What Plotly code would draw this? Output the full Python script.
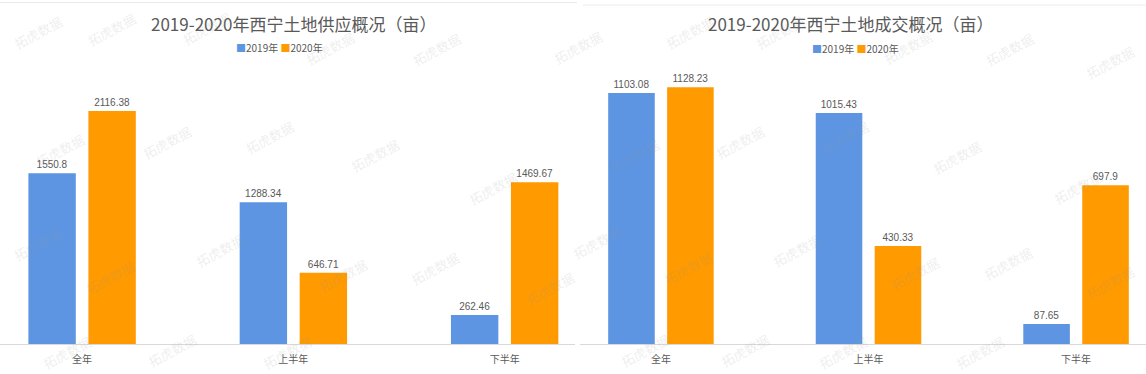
import plotly.graph_objects as go

# ---------------- data ----------------
categories = ["全年", "上半年", "下半年"]
series_names = ["2019年", "2020年"]
supply_2019 = [1550.8, 1288.34, 262.46]
supply_2020 = [2116.38, 646.71, 1469.67]
deal_2019 = [1103.08, 1015.43, 87.65]
deal_2020 = [1128.23, 430.33, 697.9]
title_left = "2019-2020年西宁土地供应概况（亩）"
title_right = "2019-2020年西宁土地成交概况（亩）"
watermark_text = "拓虎数据"

# ---------------- style ----------------
W, H = 1146, 374
BLUE = "#5D95E2"
ORANGE = "#FF9A00"
GRAY = "#595959"
LATIN = "Liberation Sans, Arial, Noto Sans CJK SC"
CJK = "Noto Sans CJK SC, Liberation Sans"


def px(x):
    return x / W


def py(y):
    return 1 - y / H


fig = go.Figure()


def add_pair(v19, v20, xa, ya):
    for vals, name, col in ((v19, series_names[0], BLUE), (v20, series_names[1], ORANGE)):
        fig.add_trace(go.Bar(
            x=categories, y=vals, name=name, xaxis=xa, yaxis=ya,
            marker=dict(color=col, line=dict(width=0)),
            text=[str(v) for v in vals], textposition="outside",
            textfont=dict(size=10, color=GRAY, family=LATIN),
            cliponaxis=False, showlegend=False, hoverinfo="x+y+name",
        ))


add_pair(supply_2019, supply_2020, "x", "y")
add_pair(deal_2019, deal_2020, "x2", "y2")

ydom = [py(344), py(60)]
xcommon = dict(type="category", categoryorder="array", categoryarray=categories,
               showline=True, linecolor="#d9d9d9", linewidth=1, ticks="",
               showgrid=False, zeroline=False, fixedrange=True,
               tickfont=dict(size=10, color=GRAY, family=CJK), ticklabelstandoff=6)
ycommon = dict(showgrid=False, zeroline=False, showticklabels=False,
               showline=False, ticks="", fixedrange=True)

fig.update_layout(
    width=W, height=H,
    margin=dict(l=0, r=0, t=0, b=0),
    paper_bgcolor="white", plot_bgcolor="white",
    barmode="group", bargap=0.432, bargroupgap=0.21,
    showlegend=False,
    xaxis=dict(domain=[0, px(575)], range=[-0.3886, 2.333], anchor="y", **xcommon),
    yaxis=dict(domain=ydom, range=[0, 2579.7], anchor="x", **ycommon),
    xaxis2=dict(domain=[px(580), 1], range=[-0.390, 2.337], anchor="y2", **xcommon),
    yaxis2=dict(domain=ydom, range=[0, 1248.4], anchor="x2", **ycommon),
)

annotations = []
# titles
for t, cx in ((title_left, 293), (title_right, 850)):
    annotations.append(dict(text=t, x=px(cx), y=py(23), xref="paper", yref="paper",
                            xanchor="center", yanchor="middle", showarrow=False,
                            font=dict(size=17, color=GRAY, family=CJK)))
# legends
legend_txt = (f'<span style="color:{BLUE}">■</span>{series_names[0]} '
              f'<span style="color:{ORANGE}">■</span>{series_names[1]}')
for cx, cy in ((279.5, 47), (855.5, 49)):
    annotations.append(dict(text=legend_txt, x=px(cx), y=py(cy), xref="paper", yref="paper",
                            xanchor="center", yanchor="middle", showarrow=False,
                            font=dict(size=10, color=GRAY, family=CJK)))

# faint watermarks (kept fully inside the picture)
wm_pos = [(38, 32), (112, 30), (207, 29), (330, 48), (60, 150), (167, 142), (270, 138),
          (375, 155), (38, 245), (220, 250), (110, 277), (343, 275), (67, 352), (172, 350),
          (287, 352), (437, 50), (578, 47), (690, 32), (635, 155), (740, 142),
          (493, 188), (597, 242), (435, 268), (550, 288), (688, 268), (645, 350), (745, 350),
          (780, 32), (908, 47), (1010, 50), (1110, 62), (845, 138), (957, 157), (1078, 187),
          (797, 250), (915, 273), (1008, 263), (1110, 282), (843, 352), (980, 352)]
for (wx, wy) in wm_pos:
    annotations.append(dict(text=watermark_text, x=px(wx), y=py(wy), xref="paper", yref="paper",
                            xanchor="center", yanchor="middle", showarrow=False, textangle=-28,
                            font=dict(size=13, color="rgba(150,150,150,0.17)", family=CJK)))
fig.update_layout(annotations=annotations)

# thin top borders of the two panels
fig.add_shape(type="line", xref="paper", yref="paper", x0=0, x1=px(577), y0=py(2.5), y1=py(2.5),
              line=dict(color="#ececec", width=1))
fig.add_shape(type="line", xref="paper", yref="paper", x0=px(583), x1=1, y0=py(5), y1=py(5),
              line=dict(color="#ececec", width=1))

fig.write_html("out.html")
